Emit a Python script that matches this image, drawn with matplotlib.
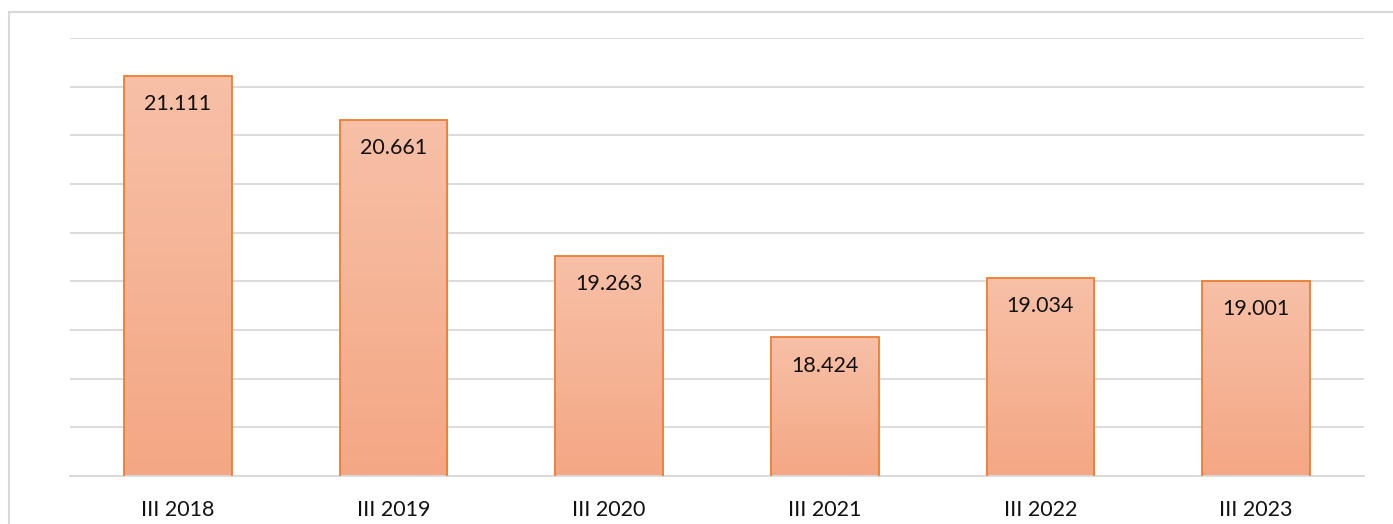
import numpy as np
import matplotlib.pyplot as plt
from matplotlib.colors import LinearSegmentedColormap
from matplotlib.patches import Rectangle

# data
periods = ['III 2018', 'III 2019', 'III 2020', 'III 2021', 'III 2022', 'III 2023']
values = [21.111, 20.661, 19.263, 18.424, 19.034, 19.001]
labels = ['21.111', '20.661', '19.263', '18.424', '19.034', '19.001']

plt.rcParams['font.family'] = ['Lato', 'DejaVu Sans']

fig = plt.figure(figsize=(13.93, 5.24), dpi=100)
ax = fig.add_axes([70/1393, 1-476/524, 1294/1393, 438/524])

# outer frame like the spreadsheet chart border
fig.patches.append(Rectangle((9/1393, -0.05), 1.1, 1-12/524+0.05, transform=fig.transFigure,
                             fill=False, edgecolor='#D9D9D9', linewidth=1.5))

x = np.arange(len(periods))
ymin, ymax = 17, 21.5
bars = ax.bar(x, values, width=0.5, bottom=0, color='none', edgecolor='#ED7D31',
              linewidth=1.3, zorder=3)

# vertical gradient fill, light on top
cmap = LinearSegmentedColormap.from_list('peach', ['#F4A784', '#F7C0A7'])
grad = np.linspace(0, 1, 256).reshape(-1, 1)
for b, v in zip(bars, values):
    x0 = b.get_x()
    im = ax.imshow(grad, cmap=cmap, origin='lower', aspect='auto',
                   extent=[x0, x0 + b.get_width(), ymin, v], zorder=2)
    im.set_clip_path(b)

for xi, v, t in zip(x, values, labels):
    ax.text(xi, v - 0.29, t, ha='center', va='center', fontsize=15.5, color='#111111', zorder=4)

ax.set_xlim(-0.5, len(periods) - 0.5)
ax.set_ylim(ymin, ymax)
ax.set_yticks(np.arange(17, 21.51, 0.5))
ax.set_yticklabels([])
ax.grid(axis='y', color='#D9D9D9', linewidth=1.3, zorder=0)
ax.set_axisbelow(True)
ax.set_xticks(x)
ax.set_xticklabels(periods, fontsize=15.5, color='#111111')
ax.tick_params(axis='x', length=0, pad=17)
ax.tick_params(axis='y', length=0)
for s in ['top', 'left', 'right']:
    ax.spines[s].set_visible(False)
ax.spines['bottom'].set_color('#D9D9D9')
ax.spines['bottom'].set_linewidth(1.3)

fig.savefig('out.png', dpi=100)
